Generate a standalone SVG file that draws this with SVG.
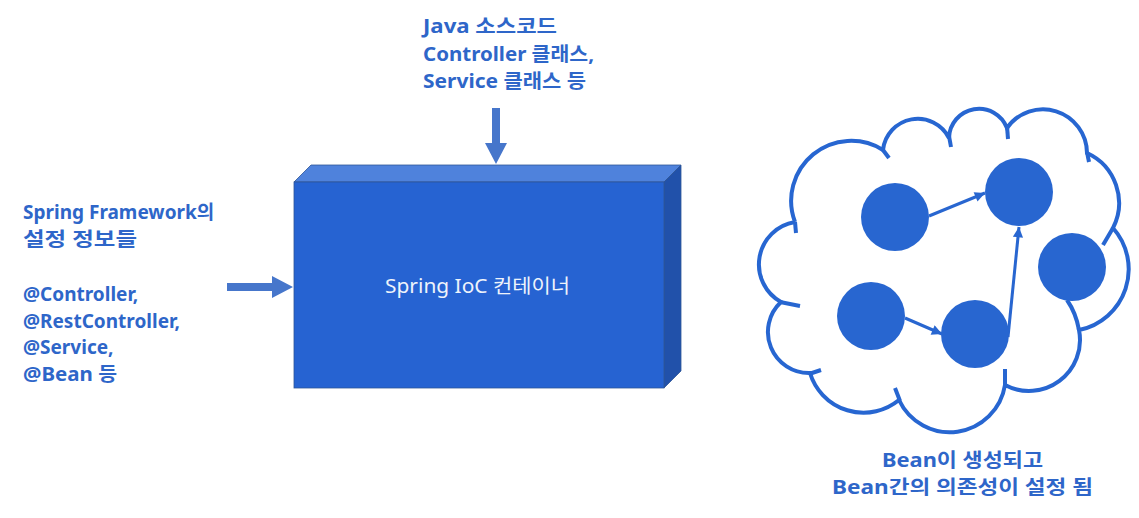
<svg xmlns="http://www.w3.org/2000/svg" width="1139" height="518" viewBox="0 0 1139 518">
<style>
.lbl{font-family:"Noto Sans","Noto Sans CJK KR",sans-serif;font-weight:bold;font-size:19px;fill:#2E66C9}
.ctr{font-family:"Noto Sans","Noto Sans CJK KR",sans-serif;font-size:19px;fill:#EEF3FB}
.cloud{fill:none;stroke:#2766D1;stroke-width:4;stroke-linecap:butt}
.bean{fill:#2866D0}
.edge{stroke:#2866D0;stroke-width:3;fill:none}
.flow{fill:#4676CB}
</style>
<defs>
<marker id="ah" viewBox="0 0 10 10" refX="10" refY="5" markerWidth="3.6" markerHeight="3.4" orient="auto" markerUnits="strokeWidth">
<path d="M0,0 L10,5 L0,10 z" fill="#2866D0"/>
</marker>
</defs>
<rect width="1139" height="518" fill="#FFFFFF"/>

<g id="top-label">
<text class="lbl" x="423" y="33" textLength="134" lengthAdjust="spacingAndGlyphs">Java 소스코드</text>
<text class="lbl" x="423" y="61" textLength="171" lengthAdjust="spacingAndGlyphs">Controller 클래스,</text>
<text class="lbl" x="423" y="88" textLength="163" lengthAdjust="spacingAndGlyphs">Service 클래스 등</text>
</g>

<g id="left-label">
<text class="lbl" x="23" y="219">Spring Framework의</text>
<text class="lbl" x="23" y="246" textLength="114" lengthAdjust="spacingAndGlyphs">설정 정보들</text>
<text class="lbl" x="23" y="301">@Controller,</text>
<text class="lbl" x="23" y="328">@RestController,</text>
<text class="lbl" x="23" y="354">@Service,</text>
<text class="lbl" x="23" y="381" textLength="94" lengthAdjust="spacingAndGlyphs">@Bean 등</text>
</g>

<g id="container">
<polygon points="294,182 311,165 681,165 664,182" fill="#4F82DC" stroke="#2F5597" stroke-width="0.8"/>
<polygon points="664,182 681,165 681,371 664,388" fill="#2151AA" stroke="#2F5597" stroke-width="0.8"/>
<rect x="294" y="182" width="370" height="206" fill="#2663D2" stroke="#2F5597" stroke-width="0.8"/>
<text class="ctr" x="385" y="293" textLength="185" lengthAdjust="spacingAndGlyphs">Spring IoC 컨테이너</text>
</g>

<g id="connectors">
<polygon class="flow" points="492,108 500,108 500,143 507,143 496,164 485,143 492,143"/>
<polygon class="flow" points="227,283 272,283 272,276 293,287 272,298 272,291 227,291"/>
<line class="edge" x1="929" y1="216" x2="985" y2="193" marker-end="url(#ah)"/>
<line class="edge" x1="905" y1="318" x2="942" y2="334" marker-end="url(#ah)"/>
<line class="edge" x1="1008" y1="337" x2="1019" y2="227" marker-end="url(#ah)"/>
</g>

<g id="cloud">
<path class="cloud" d="M795,222 A60,60 0 0 1 883,150 A35,35 0 0 1 949,138 A30,30 0 0 1 1007,128 A44,44 0 0 1 1087,153 A55,55 0 0 1 1113,228 A62,62 0 0 1 1079,330 A51,51 0 0 1 1005,385 A56,56 0 0 1 899,400 A56,56 0 0 1 810,373 A41,41 0 0 1 781,302 A43,43 0 0 1 795,222"/>
<path class="cloud" d="M795,222 L796,233"/>
<path class="cloud" d="M883,150 L889,158"/>
<path class="cloud" d="M949,136 L951,147"/>
<path class="cloud" d="M1007,126 L1008,139"/>
<path class="cloud" d="M1087,152 L1089,162"/>
<path class="cloud" d="M1113,228 L1103,245"/>
<path class="cloud" d="M1067,300 Q1076,313 1079,330"/>
<path class="cloud" d="M1005,369 L1005,386"/>
<path class="cloud" d="M895,388 L900,401"/>
<path class="cloud" d="M809,374 L821,370"/>
<path class="cloud" d="M780,302 L800,306"/>
</g>

<g id="bean-1"><circle class="bean" cx="895" cy="217" r="34"/></g>
<g id="bean-2"><circle class="bean" cx="1019" cy="192" r="34"/></g>
<g id="bean-3"><circle class="bean" cx="1072" cy="267" r="34"/></g>
<g id="bean-4"><circle class="bean" cx="871" cy="316" r="34"/></g>
<g id="bean-5"><circle class="bean" cx="975" cy="334" r="34"/></g>

<g id="bottom-label">
<text class="lbl" x="882" y="467" textLength="161" lengthAdjust="spacingAndGlyphs">Bean이 생성되고</text>
<text class="lbl" x="832" y="494" textLength="261" lengthAdjust="spacingAndGlyphs">Bean간의 의존성이 설정 됨</text>
</g>
</svg>
